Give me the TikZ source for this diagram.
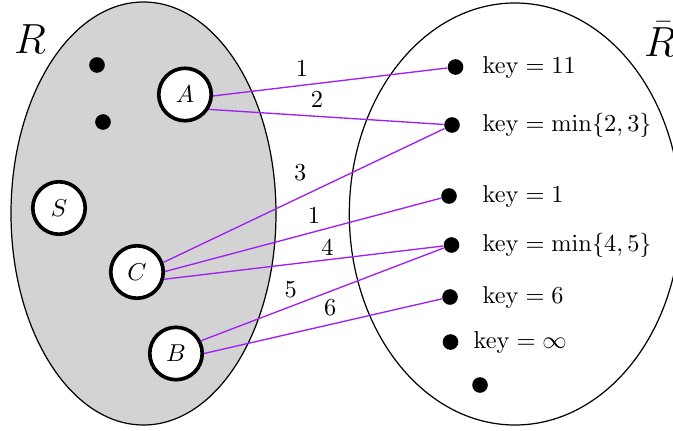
\documentclass[tikz,border=0pt]{standalone}
\definecolor{edgepurple}{RGB}{160,32,240}
\definecolor{setgray}{RGB}{211,211,211}
\begin{document}
\begin{tikzpicture}[x=0.41pt,y=-0.41pt,
  vertex/.style={circle,draw,line width=1.5pt,fill=white,minimum size=21.5pt,inner sep=0pt},
  keydot/.style={circle,fill=black,inner sep=0pt,minimum size=6.4pt},
  keytext/.style={anchor=west},
  link/.style={draw=edgepurple,line width=0.55pt},
  setname/.style={font=\LARGE}]
\useasboundingbox (0,0) rectangle (673,431);

% the two sets
\draw[fill=setgray,line width=0.5pt] (143.5,213.5) ellipse [x radius=132.5, y radius=211.5];
\draw[line width=0.5pt] (515,214) ellipse [x radius=165.7, y radius=211];
\node[setname] (Rname) at (30,39) {$R$};
\node[setname] (Rbarname) at (660,39) {$\bar{R}$};

% vertices inside R
\node[keydot] (r1) at (97,65) {};
\node[keydot] (r2) at (103,122) {};
\node[vertex] (A) at (185,94.5) {$A$};
\node[vertex] (S) at (59,208) {$S$};
\node[vertex] (C) at (137,272) {$C$};
\node[vertex] (B) at (176,353.5) {$B$};

% vertices outside R with their keys
\node[keydot] (k1) at (455.5,67) {};
\node[keydot] (k2) at (452,125) {};
\node[keydot] (k3) at (449,196) {};
\node[keydot] (k4) at (451.5,245) {};
\node[keydot] (k5) at (450,297) {};
\node[keydot] (k6) at (450.5,342) {};
\node[keydot] (k7) at (480,385) {};
\node[keytext] (t1) at (474,67) {$\mathrm{key} = 11$};
\node[keytext] (t2) at (474,125) {$\mathrm{key} = \min\{2,3\}$};
\node[keytext] (t3) at (474,196) {$\mathrm{key} = 1$};
\node[keytext] (t4) at (474,245) {$\mathrm{key} = \min\{4,5\}$};
\node[keytext] (t5) at (474,297) {$\mathrm{key} = 6$};
\node[keytext] (t6) at (465,342) {$\mathrm{key} = \infty$};

% crossing edges with weights
\draw[link] (A.-3) -- node[pos=.38,above] {1} (k1);
\draw[link] (A.-32) -- node[pos=.46,above] {2} (k2);
\draw[link] (C.20) -- node[pos=.54,above left] {3} (k2);
\draw[link] (C.1) -- node[pos=.54,above] {1} (k3);
\draw[link] (C.-15) -- node[pos=.585,above,inner sep=1.5pt] {4} (k4);
\draw[link] (B.27) -- node[pos=.37,above] {5} (k4);
\draw[link] (B.0) -- node[pos=.53,above] {6} (k5);
\end{tikzpicture}
\end{document}
